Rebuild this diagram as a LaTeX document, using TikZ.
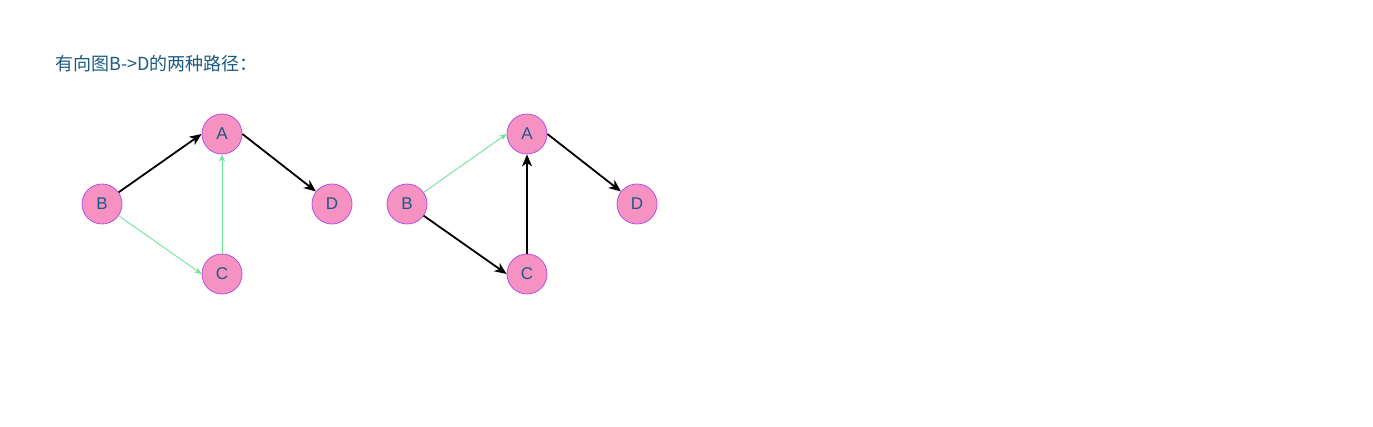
\documentclass[tikz,border=0pt]{standalone}
\usepackage{fontspec}
\setmainfont{Liberation Sans}
\newfontfamily\cjk{Noto Sans CJK SC}
\usetikzlibrary{arrows.meta}
\definecolor{nodefill}{HTML}{F592C2}
\definecolor{nodedraw}{HTML}{B44FE6}
\definecolor{txt}{HTML}{1B5A82}
\definecolor{grn}{HTML}{6EE39A}
\tikzset{
  vtx/.style={circle,draw=nodedraw,fill=nodefill,line width=0.8pt,minimum size=40pt,inner sep=0pt,text=txt,font=\fontsize{17pt}{19pt}\selectfont},
  heavy/.style={draw=black,line width=1.8pt,-{Stealth[length=12pt,width=10pt,inset=3.5pt]}},
  light/.style={draw=grn,line width=0.9pt,-{Stealth[length=7pt,width=6pt,inset=2pt]}},
}
\begin{document}
\begin{tikzpicture}[x=1pt,y=-1pt]
\useasboundingbox (0,0) rectangle (1373,427);
\node[anchor=base west,text=txt,font=\cjk\fontsize{18pt}{21pt}\selectfont,inner sep=0pt] (title) at (55,71) {有向图B->D的两种路径：};
% left graph
\node[vtx] (A1) at (222,134) {A};
\node[vtx] (B1) at (102,204) {B};
\node[vtx] (C1) at (222,274) {C};
\node[vtx] (D1) at (332,204) {D};
\draw[heavy] (B1) -- (A1.west);
\draw[heavy] (A1.east) -- (D1);
\draw[light] (B1) -- (C1.west);
\draw[light] (C1) -- (A1);
% right graph
\node[vtx] (A2) at (527,134) {A};
\node[vtx] (B2) at (407,204) {B};
\node[vtx] (C2) at (527,274) {C};
\node[vtx] (D2) at (637,204) {D};
\draw[light] (B2) -- (A2.west);
\draw[heavy] (A2.east) -- (D2);
\draw[heavy] (B2) -- (C2.west);
\draw[heavy] (C2) -- (A2);
\end{tikzpicture}
\end{document}
